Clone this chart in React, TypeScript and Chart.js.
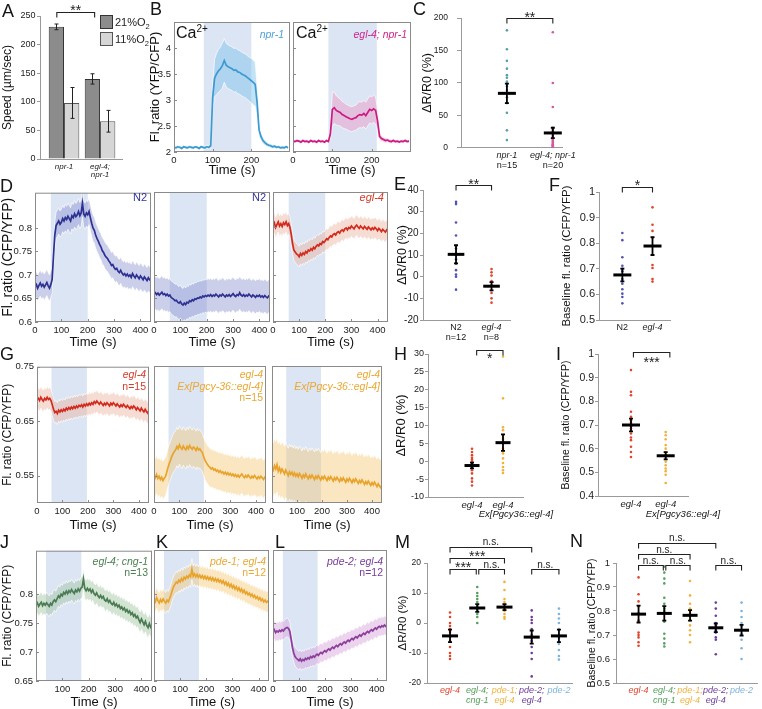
import React, { useEffect, useRef } from "react";
import { Chart, registerables } from "chart.js";

Chart.register(...registerables);

const FONT = "'Liberation Sans', Arial, Helvetica, sans-serif";
Chart.defaults.font.family = FONT;
Chart.defaults.color = "#222";

/* ======================= DATA ======================= */

// ---- Panel A ----
const A_GROUPS = [["npr-1"], ["egl-4;", "npr-1"]];
const A_SPEED_21 = [231, 140];
const A_SEM_21 = [5, 9];
const A_SPEED_11 = [98, 66];
const A_SEM_11 = [27, 19];
const A_Y_TICKS = [0, 50, 100, 150, 200, 250];
const A_BRACKETS = [{ from: 0.8, to: 1.85, y: 257, text: "**", dy: -6 }];

// ---- Panel B (time step 5 s) ----
const TIME_B = Array.from({ length: 60 }, (_, i) => i * 5);
const B_NPR1 = [
  2.09, 2.08, 2.1, 2.09, 2.07, 2.1, 2.09, 2.08, 2.1, 2.09,
  2.08, 2.1, 2.09, 2.07, 2.1, 2.09, 2.08, 2.1, 2.09, 2.12,
  3.05, 3.42, 3.5, 3.56, 3.6, 3.66, 3.76, 3.67, 3.64, 3.62,
  3.6, 3.57, 3.58, 3.54, 3.53, 3.5, 3.48, 3.46, 3.43, 3.4,
  3.37, 3.34, 3.3, 2.95, 2.42, 2.3, 2.22, 2.18, 2.15, 2.13,
  2.12, 2.1, 2.11, 2.09, 2.1, 2.08, 2.09, 2.08, 2.1, 2.08,
];
const B_NPR1_SEM = [
  0.03, 0.03, 0.03, 0.03, 0.03, 0.03, 0.03, 0.03, 0.03, 0.03,
  0.03, 0.03, 0.03, 0.03, 0.03, 0.03, 0.03, 0.03, 0.03, 0.05,
  0.25, 0.36, 0.4, 0.41, 0.42, 0.43, 0.42, 0.42, 0.42, 0.42,
  0.42, 0.42, 0.42, 0.42, 0.42, 0.42, 0.42, 0.42, 0.42, 0.42,
  0.43, 0.43, 0.42, 0.3, 0.12, 0.08, 0.06, 0.05, 0.04, 0.04,
  0.04, 0.035, 0.035, 0.03, 0.03, 0.03, 0.03, 0.03, 0.03, 0.03,
];
const B_EGL4_NPR1 = [
  2.21, 2.2, 2.22, 2.21, 2.19, 2.22, 2.2, 2.21, 2.19, 2.22,
  2.2, 2.21, 2.19, 2.22, 2.2, 2.21, 2.19, 2.22, 2.2, 2.35,
  2.82, 2.85, 2.8, 2.78, 2.76, 2.72, 2.7, 2.68, 2.66, 2.64,
  2.63, 2.65, 2.66, 2.7, 2.72, 2.71, 2.74, 2.7, 2.76, 2.82,
  2.8, 2.83, 2.8, 2.6, 2.3, 2.26, 2.24, 2.22, 2.23, 2.21,
  2.2, 2.22, 2.2, 2.21, 2.19, 2.21, 2.2, 2.22, 2.2, 2.21,
];
const B_EGL4_NPR1_SEM = [
  0.03, 0.03, 0.03, 0.03, 0.03, 0.03, 0.03, 0.03, 0.03, 0.03,
  0.03, 0.03, 0.03, 0.03, 0.03, 0.03, 0.03, 0.03, 0.03, 0.1,
  0.33, 0.3, 0.28, 0.27, 0.26, 0.25, 0.25, 0.24, 0.24, 0.24,
  0.24, 0.24, 0.24, 0.25, 0.25, 0.25, 0.25, 0.26, 0.26, 0.26,
  0.26, 0.26, 0.26, 0.2, 0.08, 0.06, 0.05, 0.05, 0.04, 0.04,
  0.04, 0.04, 0.035, 0.035, 0.03, 0.03, 0.03, 0.03, 0.03, 0.03,
];
const B_Y_TICKS = [2, 2.5, 3, 3.5, 4];
const B_X_TICKS = [0, 100, 200];
const B_STIM_1 = [77, 200];
const B_STIM_2 = [90, 213];

// ---- Panel C ----
const C_NPR1 = [181, 152, 134, 122, 112, 108, 102, 99, 95, 89, 78, 69, 54, 27, 12];
const C_EGL4_NPR1 = [178, 100, 63, 31, 28, 25, 22, 20, 17, 14, 12, 10, 8, 6, 5, 4, 3, 2, 1, 0];
const C_MEAN = [84, 23];
const C_SEM = [15, 8];
const C_Y_TICKS = [0, 50, 100, 150, 200];
const C_BRACKETS = [{ from: 1, to: 2, y: 200, text: "**", dy: -5 }];

// ---- Panels D, G, J, K, L (time step 5 s, 0-440 s) ----
const TIME_D = Array.from({ length: 89 }, (_, i) => i * 5);
const D_N2_1 = [
  0.677, 0.68, 0.672, 0.678, 0.683, 0.676, 0.68, 0.674, 0.679, 0.684,
  0.677, 0.672, 0.68, 0.69, 0.74, 0.785, 0.805, 0.81, 0.815, 0.808,
  0.812, 0.82, 0.815, 0.822, 0.818, 0.825, 0.82, 0.815, 0.826, 0.822,
  0.83, 0.824, 0.828, 0.835, 0.826, 0.832, 0.852, 0.83, 0.825, 0.832,
  0.828, 0.835, 0.822, 0.81, 0.8, 0.795, 0.785, 0.778, 0.772, 0.765,
  0.76, 0.752, 0.748, 0.742, 0.738, 0.735, 0.73, 0.726, 0.72, 0.722,
  0.716, 0.712, 0.714, 0.708, 0.705, 0.71, 0.704, 0.7, 0.703, 0.698,
  0.702, 0.697, 0.7, 0.695, 0.703, 0.698, 0.694, 0.7, 0.696, 0.692,
  0.698, 0.694, 0.69, 0.696, 0.692, 0.688, 0.694, 0.69, 0.687,
];
const D_N2_2 = [
  0.66, 0.662, 0.658, 0.661, 0.657, 0.66, 0.663, 0.658, 0.66, 0.656,
  0.659, 0.655, 0.657, 0.652, 0.65, 0.648, 0.645, 0.646, 0.642, 0.64,
  0.643, 0.638, 0.636, 0.64, 0.637, 0.642, 0.64, 0.645, 0.643, 0.647,
  0.645, 0.649, 0.648, 0.651, 0.65, 0.653, 0.651, 0.655, 0.653, 0.656,
  0.654, 0.657, 0.655, 0.658, 0.654, 0.657, 0.655, 0.659, 0.656, 0.653,
  0.657, 0.655, 0.659, 0.656, 0.653, 0.657, 0.655, 0.658, 0.654, 0.657,
  0.66, 0.656, 0.654, 0.658, 0.656, 0.662, 0.657, 0.655, 0.658, 0.654,
  0.657, 0.655, 0.659, 0.656, 0.653, 0.657, 0.655, 0.652, 0.656, 0.654,
  0.657, 0.653, 0.655, 0.652, 0.656, 0.653, 0.651, 0.655, 0.652,
];
const D_EGL4 = [
  0.805, 0.81, 0.8, 0.806, 0.812, 0.803, 0.808, 0.802, 0.81, 0.806,
  0.812, 0.804, 0.808, 0.8, 0.785, 0.765, 0.752, 0.748, 0.744, 0.742,
  0.738, 0.745, 0.741, 0.746, 0.743, 0.749, 0.746, 0.752, 0.75, 0.755,
  0.752, 0.758, 0.755, 0.76, 0.763, 0.761, 0.766, 0.764, 0.77, 0.768,
  0.772, 0.776, 0.774, 0.779, 0.782, 0.78, 0.785, 0.787, 0.784, 0.789,
  0.791, 0.788, 0.793, 0.795, 0.792, 0.797, 0.799, 0.795, 0.8, 0.798,
  0.803, 0.8, 0.797, 0.802, 0.805, 0.801, 0.798, 0.803, 0.8, 0.797,
  0.802, 0.799, 0.796, 0.801, 0.798, 0.795, 0.799, 0.796, 0.8, 0.797,
  0.793, 0.798, 0.795, 0.791, 0.796, 0.793, 0.79, 0.795, 0.792,
];
const D_SEM = [0.028, 0.035, 0.022];
const D_Y_TICKS = [0.6, 0.65, 0.7, 0.75, 0.8];
const D_X_TICKS = [0, 100, 200, 300, 400];
const D_STIM = [60, 200];

const G_EGL4 = [
  0.69, 0.692, 0.688, 0.694, 0.69, 0.687, 0.692, 0.689, 0.694, 0.69,
  0.692, 0.688, 0.68, 0.672, 0.666, 0.668, 0.664, 0.67, 0.667, 0.671,
  0.668, 0.672, 0.669, 0.674, 0.671, 0.675, 0.672, 0.676, 0.673, 0.677,
  0.674, 0.678, 0.675, 0.679, 0.677, 0.68, 0.676, 0.681, 0.678, 0.682,
  0.679, 0.683, 0.68, 0.684, 0.681, 0.686, 0.683, 0.687, 0.684, 0.681,
  0.685, 0.682, 0.679, 0.683, 0.68, 0.684, 0.681, 0.678, 0.683, 0.68,
  0.684, 0.681, 0.678, 0.682, 0.679, 0.676, 0.68, 0.677, 0.681, 0.678,
  0.675, 0.679, 0.676, 0.673, 0.677, 0.674, 0.678, 0.675, 0.671, 0.675,
  0.672, 0.669, 0.674, 0.67, 0.667, 0.672, 0.668, 0.665, 0.67,
];
const G_RESCUE_1 = [
  0.55, 0.546, 0.552, 0.545, 0.549, 0.543, 0.547, 0.541, 0.545, 0.548,
  0.556, 0.565, 0.572, 0.578, 0.585, 0.59, 0.594, 0.597, 0.603, 0.599,
  0.606, 0.601, 0.598, 0.604, 0.6, 0.597, 0.603, 0.599, 0.605, 0.601,
  0.598, 0.602, 0.6, 0.596, 0.601, 0.597, 0.599, 0.595, 0.592, 0.585,
  0.578, 0.574, 0.57, 0.567, 0.565, 0.562, 0.564, 0.56, 0.562, 0.558,
  0.56, 0.556, 0.559, 0.555, 0.557, 0.553, 0.556, 0.552, 0.555, 0.551,
  0.554, 0.55, 0.553, 0.549, 0.552, 0.548, 0.551, 0.547, 0.55, 0.553,
  0.549, 0.546, 0.55, 0.547, 0.551, 0.548, 0.545, 0.549, 0.546, 0.55,
  0.547, 0.544, 0.548, 0.545, 0.549, 0.546, 0.543, 0.547, 0.545,
];
const G_RESCUE_2 = [
  0.565, 0.56, 0.568, 0.562, 0.57, 0.558, 0.564, 0.556, 0.562, 0.558,
  0.553, 0.56, 0.555, 0.55, 0.557, 0.552, 0.556, 0.55, 0.555, 0.549,
  0.553, 0.548, 0.554, 0.55, 0.545, 0.551, 0.547, 0.553, 0.548, 0.544,
  0.55, 0.546, 0.551, 0.547, 0.543, 0.549, 0.545, 0.55, 0.546, 0.542,
  0.548, 0.544, 0.549, 0.545, 0.541, 0.547, 0.543, 0.548, 0.544, 0.54,
  0.546, 0.542, 0.547, 0.543, 0.539, 0.545, 0.541, 0.546, 0.542, 0.538,
  0.544, 0.54, 0.545, 0.541, 0.537, 0.543, 0.539, 0.544, 0.54, 0.536,
  0.541, 0.537, 0.542, 0.538, 0.534, 0.539, 0.535, 0.54, 0.536, 0.532,
  0.537, 0.533, 0.538, 0.534, 0.53, 0.535, 0.531, 0.528, 0.533,
];
const G_SEM = [0.02, 0.035, 0.05];
const G_Y_TICKS = [0.55, 0.65, 0.75];
const G_STIM = [57, 196];

const J_CNG1 = [
  0.782, 0.785, 0.779, 0.783, 0.786, 0.78, 0.784, 0.781, 0.785, 0.782,
  0.779, 0.784, 0.781, 0.787, 0.79, 0.787, 0.792, 0.797, 0.794, 0.8,
  0.797, 0.803, 0.8, 0.805, 0.801, 0.806, 0.803, 0.808, 0.804, 0.801,
  0.807, 0.804, 0.809, 0.805, 0.81, 0.812, 0.826, 0.81, 0.806, 0.81,
  0.806, 0.809, 0.803, 0.807, 0.801, 0.798, 0.802, 0.797, 0.794, 0.798,
  0.793, 0.796, 0.79, 0.788, 0.792, 0.786, 0.789, 0.784, 0.782, 0.786,
  0.78, 0.783, 0.778, 0.781, 0.775, 0.778, 0.773, 0.776, 0.77, 0.773,
  0.768, 0.771, 0.765, 0.768, 0.762, 0.765, 0.759, 0.762, 0.756, 0.751,
  0.757, 0.752, 0.747, 0.753, 0.746, 0.742, 0.749, 0.743, 0.739,
];
const K_PDE1 = [
  0.79, 0.786, 0.793, 0.788, 0.784, 0.79, 0.786, 0.791, 0.787, 0.784,
  0.789, 0.786, 0.792, 0.798, 0.806, 0.812, 0.816, 0.82, 0.818, 0.823,
  0.82, 0.826, 0.822, 0.828, 0.825, 0.83, 0.827, 0.832, 0.829, 0.842,
  0.83, 0.834, 0.829, 0.833, 0.828, 0.832, 0.827, 0.831, 0.826, 0.83,
  0.825, 0.829, 0.824, 0.828, 0.823, 0.827, 0.822, 0.826, 0.821, 0.825,
  0.82, 0.823, 0.818, 0.822, 0.816, 0.82, 0.814, 0.818, 0.812, 0.816,
  0.81, 0.814, 0.808, 0.812, 0.806, 0.81, 0.804, 0.808, 0.802, 0.806,
  0.8, 0.803, 0.798, 0.801, 0.796, 0.799, 0.794, 0.797, 0.792, 0.795,
  0.79, 0.793, 0.788, 0.791, 0.786, 0.789, 0.785, 0.787, 0.784,
];
const L_PDE2 = [
  0.735, 0.738, 0.733, 0.736, 0.734, 0.737, 0.735, 0.738, 0.736, 0.739,
  0.741, 0.742, 0.74, 0.735, 0.722, 0.708, 0.698, 0.692, 0.689, 0.687,
  0.685, 0.688, 0.684, 0.687, 0.685, 0.689, 0.687, 0.69, 0.688, 0.692,
  0.69, 0.693, 0.691, 0.694, 0.696, 0.694, 0.697, 0.699, 0.697, 0.7,
  0.702, 0.7, 0.703, 0.705, 0.703, 0.706, 0.708, 0.706, 0.709, 0.711,
  0.709, 0.712, 0.714, 0.712, 0.715, 0.717, 0.715, 0.718, 0.72, 0.718,
  0.721, 0.723, 0.721, 0.724, 0.726, 0.724, 0.727, 0.729, 0.727, 0.73,
  0.732, 0.73, 0.733, 0.735, 0.733, 0.736, 0.738, 0.736, 0.739, 0.741,
  0.739, 0.742, 0.744, 0.742, 0.745, 0.743, 0.746, 0.744, 0.747,
];
const JKL_SEM = [0.018, 0.018, 0.016];
const J_Y_TICKS = [0.65, 0.7, 0.75, 0.8];
const J_X_TICKS = [100, 200, 300, 400];
const JKL_STIM = [38, 172];

// ---- Panel E ----
const E_N2 = [34.5, 33.5, 25, 19, 13, 10, 8, 6, 3, 1, 0, -6];
const E_EGL4 = [3.5, 2, 0.5, -2, -4, -7.5, -10, -12];
const E_MEAN = [10.3, -4.4];
const E_SEM = [4.2, 1.9];
const E_Y_TICKS = [-20, -10, 0, 10, 20, 30, 40];
const E_BRACKETS = [{ from: 1, to: 2, y: 42.3, text: "**", dy: -4.5 }];

// ---- Panel F ----
const F_N2 = [0.84, 0.812, 0.745, 0.712, 0.7, 0.69, 0.66, 0.642, 0.62, 0.603, 0.59, 0.565];
const F_EGL4 = [0.94, 0.872, 0.848, 0.82, 0.715, 0.703, 0.66, 0.65];
const F_MEAN = [0.676, 0.789];
const F_SEM = [0.025, 0.035];
const FRAC_TICKS_5 = [0.5, 0.6, 0.7, 0.8, 0.9, 1];
const F_BRACKETS = [{ from: 1, to: 2, y: 1.021, text: "*", dy: -6 }];

// ---- Panel H ----
const H_EGL4 = [3.5, 2.6, 1.7, 1, 0.5, 0, -0.3, -0.8, -1.2, -1.6, -2.5, -3.4, -4.8, -5.7, -6.8];
const H_RESCUE = [29.3, 17.6, 9.5, 8.7, 7.3, 6.5, 6.1, 3.6, 3, 2.2, 0.8, -0.5, -1.6, -2.5, -3.3];
const H_MEAN = [-1.2, 5.2];
const H_SEM = [0.8, 2.3];
const H_Y_TICKS = [-10, -5, 0, 5, 10, 15, 20, 25, 30];
const H_BRACKETS = [{ from: 1.15, to: 2, y: 31.2, text: "*", dy: 4 }];

// ---- Panel I ----
const I_EGL4 = [0.932, 0.84, 0.826, 0.756, 0.735, 0.72, 0.71, 0.695, 0.685, 0.664, 0.647, 0.636, 0.608, 0.586, 0.565];
const I_RESCUE = [0.67, 0.657, 0.64, 0.615, 0.6, 0.585, 0.575, 0.565, 0.555, 0.545, 0.53, 0.516, 0.505, 0.49, 0.455];
const I_MEAN = [0.7, 0.57];
const I_SEM = [0.027, 0.015];
const I_Y_TICKS = [0.4, 0.5, 0.6, 0.7, 0.8, 0.9, 1];
const I_BRACKETS = [{ from: 1.07, to: 2.12, y: 1.01, text: "***", dy: 6.5 }];

// ---- Panels M / N ----
const MN_LABELS = ["egl-4", ["egl-4;", "cng-1"], ["pde-1;", "egl-4"], ["pde-2;", "egl-4"], "pde-2"];
const M_EGL4 = [3.5, 2, 0, -1, -2, -3, -4.5, -6, -8, -10, -11, -12];
const M_CNG1 = [12, 10, 9, 8, 7, 6, 5.5, 5, 4.5, 4, 3, 2, 0];
const M_PDE1 = [13.7, 11, 8, 7, 6, 5.5, 5, 4.5, 4, 3, 2, 1.4];
const M_PDE2_EGL4 = [4.2, 2, 1, 0, -2, -4, -5, -6, -8, -10, -12, -17.8];
const M_PDE2 = [4.8, 3, 1.5, 0, -2, -4, -5, -7, -9, -11, -12.2];
const M_MEAN = [-4.3, 5, 5.3, -4.7, -4.3];
const M_SEM = [2.1, 1.3, 1.0, 2.2, 2.1];
const M_Y_TICKS = [-20, -10, 0, 10, 20];
const M_BRACKETS = [
  { from: 1, to: 4, y: 25.3, text: "n.s.", dy: -5 },
  { from: 1, to: 3, y: 21.8, text: "***", dy: -5.5 },
  { from: 1, to: 2, y: 18.1, text: "***", dy: -5.5, in2: 1 },
  { from: 2, to: 3, y: 18.1, text: "n.s.", dy: -4, in1: 1.5 },
  { from: 4, to: 5, y: 18.1, text: "n.s.", dy: -4 },
];
const N_EGL4 = [0.94, 0.87, 0.84, 0.82, 0.79, 0.76, 0.71, 0.7, 0.69, 0.67, 0.655];
const N_CNG1 = [0.985, 0.96, 0.935, 0.915, 0.855, 0.83, 0.81, 0.8, 0.755, 0.705, 0.685, 0.665, 0.652];
const N_PDE1 = [0.925, 0.865, 0.83, 0.81, 0.8, 0.79, 0.78, 0.76, 0.74, 0.72, 0.7, 0.67];
const N_PDE2_EGL4 = [0.835, 0.81, 0.78, 0.75, 0.74, 0.73, 0.72, 0.71, 0.69, 0.68, 0.62];
const N_PDE2 = [0.835, 0.8, 0.775, 0.75, 0.735, 0.72, 0.705, 0.68, 0.645, 0.6];
const N_MEAN = [0.787, 0.79, 0.782, 0.73, 0.72];
const N_SEM = [0.035, 0.03, 0.022, 0.018, 0.022];
const N_BRACKETS = [
  { from: 1, to: 4, y: 1.082, text: "n.s.", dy: -5 },
  { from: 1, to: 3, y: 1.036, text: "n.s.", dy: -4 },
  { from: 1, to: 2, y: 0.99, text: "n.s.", dy: -4, in2: 1 },
  { from: 2, to: 3, y: 0.99, text: "n.s.", dy: -4, in1: 1.5 },
  { from: 4, to: 5, y: 0.99, text: "n.s.", dy: -4 },
];

/* ======================= STYLE ======================= */
const STIM_COLOR = "#dce5f4";
const BOX_COLOR = "#8a8a8a";
const AXIS_COLOR = "#9a9a9a";
const COL = {
  b1: "#3d9ad1", b1Band: "rgba(120,190,235,0.45)",
  b2: "#cc1a80", b2Band: "rgba(235,140,190,0.42)",
  navy: "#2e3192", navyBand: "rgba(130,140,205,0.42)",
  red: "#d42a1e", redBand: "rgba(232,175,150,0.42)",
  orange: "#e9a32b", orangeBand: "rgba(242,198,110,0.42)",
  green: "#4b7b53", greenBand: "rgba(150,190,150,0.42)",
  purple: "#8b3f9a", purpleBand: "rgba(212,160,218,0.45)",
  dotTeal: "#56a0ab", dotPink: "#d35aa0", dotN2: "#5252b0",
  dotRed: "#e0452e", dotOrange: "#f0b23c", dotGreen: "#55a05c",
  dotPurple: "#6e3c9a", dotBlue: "#7db4dc",
};
const MN_COLORS = [COL.dotRed, COL.dotGreen, COL.dotOrange, COL.dotPurple, COL.dotBlue];

/* ======================= PLUGINS ======================= */
function stimPlugin(range: number[]) {
  return {
    id: "stim",
    beforeDatasetsDraw(chart: any) {
      const { ctx, chartArea: a, scales } = chart;
      const x = scales.x;
      const x1 = Math.max(a.left, x.getPixelForValue(range[0]));
      const x2 = Math.min(a.right, x.getPixelForValue(range[1]));
      ctx.save();
      ctx.fillStyle = STIM_COLOR;
      ctx.fillRect(x1, a.top, x2 - x1, a.bottom - a.top);
      ctx.restore();
    },
  };
}
function boxPlugin() {
  return {
    id: "box",
    afterDatasetsDraw(chart: any) {
      const { ctx, chartArea: a, scales } = chart;
      const { x, y } = scales;
      ctx.save();
      ctx.strokeStyle = BOX_COLOR;
      ctx.lineWidth = 1;
      ctx.strokeRect(a.left + 0.5, a.top + 0.5, a.right - a.left - 1, a.bottom - a.top - 1);
      ctx.beginPath();
      for (const t of x.ticks) {
        const px = Math.round(x.getPixelForValue(t.value)) + 0.5;
        ctx.moveTo(px, a.bottom);
        ctx.lineTo(px, a.bottom - 3);
      }
      for (const t of y.ticks) {
        const py = Math.round(y.getPixelForValue(t.value)) + 0.5;
        ctx.moveTo(a.left, py);
        ctx.lineTo(a.left + 3, py);
      }
      ctx.stroke();
      ctx.restore();
    },
  };
}
type Bracket = { from: number; to: number; y: number; text: string; dy?: number; in1?: number; in2?: number };
function bracketPlugin(items: Bracket[]) {
  return {
    id: "brackets",
    afterDraw(chart: any) {
      const { ctx, scales } = chart;
      const { x, y } = scales;
      ctx.save();
      ctx.strokeStyle = "#222";
      ctx.fillStyle = "#222";
      ctx.lineWidth = 1.1;
      ctx.textAlign = "center";
      ctx.textBaseline = "alphabetic";
      for (const b of items) {
        const x1 = x.getPixelForValue(b.from) + (b.in1 || 0);
        const x2 = x.getPixelForValue(b.to) - (b.in2 || 0);
        const py = Math.round(y.getPixelForValue(b.y)) + 0.5;
        ctx.beginPath();
        ctx.moveTo(x1, py + 5);
        ctx.lineTo(x1, py);
        ctx.lineTo(x2, py);
        ctx.lineTo(x2, py + 5);
        ctx.stroke();
        const star = b.text.indexOf("*") >= 0;
        const fs = star ? 14 : 10;
        ctx.font = `${fs}px ${FONT}`;
        const yc = py + (b.dy === undefined ? -5.5 : b.dy);
        ctx.fillText(b.text, (x1 + x2) / 2, yc + (star ? 0.58 : 0.26) * fs);
      }
      ctx.restore();
    },
  };
}
function crossPlugin(means: number[], sems: number[], half: number) {
  return {
    id: "cross",
    afterDatasetsDraw(chart: any) {
      const { ctx, scales } = chart;
      const { x, y } = scales;
      ctx.save();
      ctx.strokeStyle = "#000";
      means.forEach((m, i) => {
        const cx = x.getPixelForValue(i + 1);
        const my = y.getPixelForValue(m);
        const lo = y.getPixelForValue(m - sems[i]);
        const hi = y.getPixelForValue(m + sems[i]);
        ctx.lineWidth = 1.8;
        ctx.beginPath();
        ctx.moveTo(cx, lo);
        ctx.lineTo(cx, hi);
        ctx.moveTo(cx - 2, lo);
        ctx.lineTo(cx + 2, lo);
        ctx.moveTo(cx - 2, hi);
        ctx.lineTo(cx + 2, hi);
        ctx.stroke();
        ctx.lineWidth = 3;
        ctx.beginPath();
        ctx.moveTo(cx - half, my);
        ctx.lineTo(cx + half, my);
        ctx.stroke();
      });
      ctx.restore();
    },
  };
}
function errorBarPlugin(values: number[][], errs: number[][]) {
  return {
    id: "errbars",
    afterDatasetsDraw(chart: any) {
      const { ctx, scales } = chart;
      const y = scales.y;
      ctx.save();
      ctx.strokeStyle = "#222";
      ctx.lineWidth = 1;
      values.forEach((vals, d) => {
        const meta = chart.getDatasetMeta(d);
        meta.data.forEach((bar: any, i: number) => {
          const cx = Math.round(bar.x) + 0.5;
          const top = y.getPixelForValue(vals[i] + errs[d][i]);
          const bot = y.getPixelForValue(vals[i] - errs[d][i]);
          ctx.beginPath();
          ctx.moveTo(cx, top);
          ctx.lineTo(cx, bot);
          ctx.moveTo(cx - 2, top);
          ctx.lineTo(cx + 2, top);
          ctx.moveTo(cx - 2, bot);
          ctx.lineTo(cx + 2, bot);
          ctx.stroke();
        });
      });
      ctx.restore();
    },
  };
}

/* ======================= CONFIG BUILDERS ======================= */
type Pad = { l: number; t: number; r: number; b: number };
type Area = { L: number; T: number; R: number; B: number };

function base(pad: Pad) {
  return {
    responsive: true,
    maintainAspectRatio: false,
    animation: false,
    events: [],
    layout: { padding: { left: 0, top: pad.t, right: pad.r, bottom: 0 } },
    plugins: { legend: { display: false }, tooltip: { enabled: false }, title: { display: false } },
  };
}

type TimeSpec = {
  time: number[]; mean: number[]; sem: number | number[]; color: string; band: string;
  xMax: number; yMin: number; yMax: number; yTicks: number[]; xTicks: number[];
  showY: boolean; yTitle?: string; yTitleSize?: number; stim: number[]; pad: Pad;
};
function timeConfig(s: TimeSpec) {
  const semAt = (i: number) => (typeof s.sem === "number" ? s.sem : s.sem[i]);
  const pts = (f: (v: number, i: number) => number) => s.mean.map((v, i) => ({ x: s.time[i], y: f(v, i) }));
  const edge = "rgba(255,255,255,0.85)";
  return {
    type: "line",
    data: {
      datasets: [
        { data: pts((v) => v), borderColor: s.color, borderWidth: 1.7, pointRadius: 0, fill: false, clip: 0 },
        { data: pts((v, i) => v + semAt(i)), borderColor: edge, borderWidth: 0.8, pointRadius: 0, fill: false, clip: 0 },
        { data: pts((v, i) => v - semAt(i)), borderColor: edge, borderWidth: 0.8, pointRadius: 0, fill: "-1", backgroundColor: s.band, clip: 0 },
      ],
    },
    options: {
      ...base(s.pad),
      scales: {
        x: {
          type: "linear", min: 0, max: s.xMax,
          afterBuildTicks: (sc: any) => { sc.ticks = s.xTicks.map((v) => ({ value: v })); },
          afterFit: (sc: any) => { sc.height = s.pad.b; },
          ticks: { callback: (v: any) => String(v), font: { size: 9.5 }, color: "#222", padding: 3, maxRotation: 0, autoSkip: false },
          grid: { display: false, drawTicks: false },
          border: { display: false },
          title: { display: true, text: "Time (s)", font: { size: 13 }, color: "#111", padding: 0 },
        },
        y: {
          type: "linear", min: s.yMin, max: s.yMax,
          afterBuildTicks: (sc: any) => { sc.ticks = s.yTicks.map((v) => ({ value: v })); },
          afterFit: (sc: any) => { sc.width = s.pad.l; },
          ticks: { display: s.showY, callback: (v: any) => String(v), font: { size: 9.5 }, color: "#222", padding: 3, autoSkip: false },
          grid: { display: false, drawTicks: false },
          border: { display: false },
          title: { display: !!s.yTitle, text: s.yTitle || "", font: { size: s.yTitleSize || 13 }, color: "#111", padding: 0 },
        },
      },
    },
    plugins: [stimPlugin(s.stim), boxPlugin()],
  };
}

type ScatterSpec = {
  groups: number[][]; colors: string[]; means: number[]; sems: number[]; half: number;
  labels: any[]; labelColors: string[]; labelItalic: boolean[]; labelSize: number;
  xMin: number; xMax: number; yMin: number; yMax: number; yTicks: number[]; tickSize: number;
  yTitle: string; yTitleSize: number; tickLen: number; tickPad: number; brackets: Bracket[]; pad: Pad;
};
function yAxisExcel(s: { yMin: number; yMax: number; yTicks: number[]; tickSize: number; tickLen: number; tickPad: number; yTitle: string; yTitleSize: number; pad: Pad }) {
  return {
    type: "linear", min: s.yMin, max: s.yMax,
    afterBuildTicks: (sc: any) => { sc.ticks = s.yTicks.map((v) => ({ value: v })); },
    afterFit: (sc: any) => { sc.width = s.pad.l; },
    ticks: { callback: (v: any) => String(v), font: { size: s.tickSize }, color: "#222", padding: s.tickPad, autoSkip: false },
    grid: { display: true, drawOnChartArea: false, drawTicks: true, tickLength: s.tickLen, color: AXIS_COLOR, lineWidth: 1 },
    border: { display: true, color: AXIS_COLOR, width: 1 },
    title: { display: true, text: s.yTitle, font: { size: s.yTitleSize }, color: "#111", padding: 0 },
  };
}
function xAxisCats(labels: any[], colors: string[], italic: boolean[], size: number, min: number, max: number, pad: Pad) {
  return {
    type: "linear", min, max, offset: false,
    afterBuildTicks: (sc: any) => { sc.ticks = labels.map((_: any, i: number) => ({ value: i + 1 })); },
    afterFit: (sc: any) => { sc.height = pad.b; },
    ticks: {
      callback: (_v: any, i: number) => labels[i],
      autoSkip: false, maxRotation: 0, minRotation: 0, padding: 3,
      color: (c: any) => colors[c.index] || "#222",
      font: (c: any) => ({ size, style: italic[c.index] ? "italic" : "normal", lineHeight: 1.1 }),
    },
    grid: { display: false, drawTicks: false },
    border: { display: true, color: AXIS_COLOR, width: 1 },
  };
}
function scatterConfig(s: ScatterSpec) {
  return {
    type: "scatter",
    data: {
      datasets: s.groups.map((g, gi) => ({
        data: g.map((v) => ({ x: gi + 1, y: v })),
        pointRadius: 1.3, pointBackgroundColor: s.colors[gi], pointBorderWidth: 0, borderWidth: 0,
      })),
    },
    options: {
      ...base(s.pad),
      scales: {
        x: xAxisCats(s.labels, s.labelColors, s.labelItalic, s.labelSize, s.xMin, s.xMax, s.pad),
        y: yAxisExcel(s),
      },
    },
    plugins: [crossPlugin(s.means, s.sems, s.half), bracketPlugin(s.brackets)],
  };
}

function barConfig(pad: Pad) {
  return {
    type: "bar",
    data: {
      datasets: [
        { data: A_SPEED_21.map((y, i) => ({ x: i + 1, y })), backgroundColor: "#8c8c8c", borderColor: "#333", borderWidth: 1 },
        { data: A_SPEED_11.map((y, i) => ({ x: i + 1, y })), backgroundColor: "#d6d6d6", borderColor: "#555", borderWidth: 1 },
      ],
    },
    options: {
      ...base(pad),
      datasets: { bar: { categoryPercentage: 0.85, barPercentage: 1 } },
      scales: {
        x: xAxisCats(A_GROUPS, ["#222", "#222"], [true, true], 8, 0.333, 2.61, pad),
        y: yAxisExcel({ yMin: 0, yMax: 250, yTicks: A_Y_TICKS, tickSize: 9, tickLen: 3, tickPad: 1.5, yTitle: "Speed (µm/sec)", yTitleSize: 12, pad }),
      },
    },
    plugins: [errorBarPlugin([A_SPEED_21, A_SPEED_11], [A_SEM_21, A_SEM_11]), bracketPlugin(A_BRACKETS)],
  };
}

/* ======================= LAYOUT ======================= */
type ChartDef = { area: Area; pad: Pad; make: (pad: Pad) => any };

const two = [true, true];
const DARK2 = ["#222", "#222"];

const CHARTS: ChartDef[] = [
  { area: { L: 40, T: 16, R: 122, B: 159 }, pad: { l: 40, t: 16, r: 6, b: 24 }, make: (p) => barConfig(p) },
  // B
  {
    area: { L: 174, T: 22, R: 290, B: 152 }, pad: { l: 26, t: 12, r: 4, b: 26 },
    make: (p) => timeConfig({ time: TIME_B, mean: B_NPR1, sem: B_NPR1_SEM, color: COL.b1, band: COL.b1Band, xMax: 300, yMin: 2, yMax: 4.5, yTicks: B_Y_TICKS, xTicks: B_X_TICKS, showY: true, yTitle: "Fl. ratio (YFP/CFP)", yTitleSize: 13, stim: B_STIM_1, pad: p }),
  },
  {
    area: { L: 293, T: 22, R: 411, B: 152 }, pad: { l: 10, t: 12, r: 4, b: 26 },
    make: (p) => timeConfig({ time: TIME_B, mean: B_EGL4_NPR1, sem: B_EGL4_NPR1_SEM, color: COL.b2, band: COL.b2Band, xMax: 300, yMin: 2, yMax: 4.5, yTicks: B_Y_TICKS, xTicks: B_X_TICKS, showY: false, stim: B_STIM_2, pad: p }),
  },
  // C
  {
    area: { L: 461, T: 18, R: 562, B: 148 }, pad: { l: 41, t: 18, r: 30, b: 14 },
    make: (p) => scatterConfig({ groups: [C_NPR1, C_EGL4_NPR1], colors: [COL.dotTeal, COL.dotPink], means: C_MEAN, sems: C_SEM, half: 9, labels: ["npr-1", "egl-4; npr-1"], labelColors: DARK2, labelItalic: two, labelSize: 9, xMin: 0, xMax: 2.2, yMin: 0, yMax: 200, yTicks: C_Y_TICKS, tickSize: 8.5, yTitle: "ΔR/R0 (%)", yTitleSize: 12.5, tickLen: 4, tickPad: 9, brackets: C_BRACKETS, pad: p }),
  },
  // D
  {
    area: { L: 35, T: 192, R: 151, B: 322 }, pad: { l: 35, t: 8, r: 4, b: 28 },
    make: (p) => timeConfig({ time: TIME_D, mean: D_N2_1, sem: D_SEM[0], color: COL.navy, band: COL.navyBand, xMax: 440, yMin: 0.6, yMax: 0.875, yTicks: D_Y_TICKS, xTicks: D_X_TICKS, showY: true, yTitle: "Fl. ratio (CFP/YFP)", yTitleSize: 14, stim: D_STIM, pad: p }),
  },
  {
    area: { L: 154, T: 192, R: 270, B: 322 }, pad: { l: 10, t: 8, r: 4, b: 28 },
    make: (p) => timeConfig({ time: TIME_D, mean: D_N2_2, sem: D_SEM[1], color: COL.navy, band: COL.navyBand, xMax: 440, yMin: 0.6, yMax: 0.875, yTicks: D_Y_TICKS, xTicks: D_X_TICKS, showY: false, stim: D_STIM, pad: p }),
  },
  {
    area: { L: 273, T: 192, R: 388, B: 322 }, pad: { l: 10, t: 8, r: 4, b: 28 },
    make: (p) => timeConfig({ time: TIME_D, mean: D_EGL4, sem: D_SEM[2], color: COL.red, band: COL.redBand, xMax: 440, yMin: 0.6, yMax: 0.875, yTicks: D_Y_TICKS, xTicks: D_X_TICKS, showY: false, stim: D_STIM, pad: p }),
  },
  // E
  {
    area: { L: 423, T: 190, R: 510, B: 320 }, pad: { l: 28, t: 16, r: 12, b: 14 },
    make: (p) => scatterConfig({ groups: [E_N2, E_EGL4], colors: [COL.dotN2, COL.dotRed], means: E_MEAN, sems: E_SEM, half: 8.3, labels: ["N2", "egl-4"], labelColors: DARK2, labelItalic: [false, true], labelSize: 9, xMin: 0.07, xMax: 2.52, yMin: -20, yMax: 40, yTicks: E_Y_TICKS, tickSize: 10, yTitle: "ΔR/R0 (%)", yTitleSize: 12.5, tickLen: 3, tickPad: 1.5, brackets: E_BRACKETS, pad: p }),
  },
  // F
  {
    area: { L: 599, T: 192, R: 670, B: 320 }, pad: { l: 39, t: 16, r: 12, b: 14 },
    make: (p) => scatterConfig({ groups: [F_N2, F_EGL4], colors: [COL.dotN2, COL.dotRed], means: F_MEAN, sems: F_SEM, half: 9, labels: ["N2", "egl-4"], labelColors: DARK2, labelItalic: [false, true], labelSize: 9, xMin: 0.226, xMax: 2.58, yMin: 0.5, yMax: 1, yTicks: FRAC_TICKS_5, tickSize: 11, yTitle: "Baseline fl. ratio (CFP/YFP)", yTitleSize: 11.5, tickLen: 3, tickPad: 1, brackets: F_BRACKETS, pad: p }),
  },
  // G
  {
    area: { L: 37, T: 366, R: 149, B: 503 }, pad: { l: 37, t: 8, r: 4, b: 30 },
    make: (p) => timeConfig({ time: TIME_D, mean: G_EGL4, sem: G_SEM[0], color: COL.red, band: COL.redBand, xMax: 440, yMin: 0.5, yMax: 0.75, yTicks: G_Y_TICKS, xTicks: D_X_TICKS, showY: true, yTitle: "Fl. ratio (CFP/YFP)", yTitleSize: 12, stim: G_STIM, pad: p }),
  },
  {
    area: { L: 154, T: 366, R: 266, B: 503 }, pad: { l: 10, t: 8, r: 4, b: 30 },
    make: (p) => timeConfig({ time: TIME_D, mean: G_RESCUE_1, sem: G_SEM[1], color: COL.orange, band: COL.orangeBand, xMax: 440, yMin: 0.5, yMax: 0.75, yTicks: G_Y_TICKS, xTicks: D_X_TICKS, showY: false, stim: G_STIM, pad: p }),
  },
  {
    area: { L: 272, T: 366, R: 382, B: 503 }, pad: { l: 10, t: 8, r: 4, b: 30 },
    make: (p) => timeConfig({ time: TIME_D, mean: G_RESCUE_2, sem: G_SEM[2], color: COL.orange, band: COL.orangeBand, xMax: 440, yMin: 0.5, yMax: 0.75, yTicks: G_Y_TICKS, xTicks: D_X_TICKS, showY: false, stim: G_STIM, pad: p }),
  },
  // H
  {
    area: { L: 428, T: 354, R: 523, B: 497 }, pad: { l: 34, t: 8, r: 12, b: 14 },
    make: (p) => scatterConfig({ groups: [H_EGL4, H_RESCUE], colors: [COL.dotRed, COL.dotOrange], means: H_MEAN, sems: H_SEM, half: 7.5, labels: ["egl-4", "egl-4"], labelColors: DARK2, labelItalic: two, labelSize: 9.5, xMin: -0.42, xMax: 2.645, yMin: -10, yMax: 30, yTicks: H_Y_TICKS, tickSize: 9, yTitle: "ΔR/R0 (%)", yTitleSize: 13, tickLen: 3, tickPad: 1, brackets: H_BRACKETS, pad: p }),
  },
  // I
  {
    area: { L: 598, T: 354, R: 688, B: 496 }, pad: { l: 38, t: 8, r: 12, b: 14 },
    make: (p) => scatterConfig({ groups: [I_EGL4, I_RESCUE], colors: [COL.dotRed, COL.dotOrange], means: I_MEAN, sems: I_SEM, half: 9, labels: ["egl-4", "egl-4"], labelColors: DARK2, labelItalic: two, labelSize: 9.5, xMin: 0.049, xMax: 2.643, yMin: 0.4, yMax: 1, yTicks: I_Y_TICKS, tickSize: 10.5, yTitle: "Baseline fl. ratio (CFP/YFP)", yTitleSize: 10.5, tickLen: 3, tickPad: 1, brackets: I_BRACKETS, pad: p }),
  },
  // J K L
  {
    area: { L: 36, T: 550, R: 152, B: 681 }, pad: { l: 36, t: 8, r: 4, b: 29 },
    make: (p) => timeConfig({ time: TIME_D, mean: J_CNG1, sem: JKL_SEM[0], color: COL.green, band: COL.greenBand, xMax: 440, yMin: 0.65, yMax: 0.875, yTicks: J_Y_TICKS, xTicks: J_X_TICKS, showY: true, yTitle: "Fl. ratio (CFP/YFP)", yTitleSize: 12, stim: JKL_STIM, pad: p }),
  },
  {
    area: { L: 154, T: 550, R: 269, B: 681 }, pad: { l: 10, t: 8, r: 4, b: 29 },
    make: (p) => timeConfig({ time: TIME_D, mean: K_PDE1, sem: JKL_SEM[1], color: COL.orange, band: COL.orangeBand, xMax: 440, yMin: 0.65, yMax: 0.875, yTicks: J_Y_TICKS, xTicks: D_X_TICKS, showY: false, stim: JKL_STIM, pad: p }),
  },
  {
    area: { L: 273, T: 550, R: 387, B: 681 }, pad: { l: 10, t: 8, r: 4, b: 29 },
    make: (p) => timeConfig({ time: TIME_D, mean: L_PDE2, sem: JKL_SEM[2], color: COL.purple, band: COL.purpleBand, xMax: 440, yMin: 0.65, yMax: 0.875, yTicks: J_Y_TICKS, xTicks: D_X_TICKS, showY: false, stim: JKL_STIM, pad: p }),
  },
  // M
  {
    area: { L: 427, T: 563, R: 572, B: 683 }, pad: { l: 31, t: 30, r: 10, b: 24 },
    make: (p) => scatterConfig({ groups: [M_EGL4, M_CNG1, M_PDE1, M_PDE2_EGL4, M_PDE2], colors: MN_COLORS, means: M_MEAN, sems: M_SEM, half: 8, labels: MN_LABELS, labelColors: MN_COLORS, labelItalic: [true, true, true, true, true], labelSize: 9, xMin: 0.154, xMax: 5.48, yMin: -20, yMax: 20, yTicks: M_Y_TICKS, tickSize: 8.5, yTitle: "ΔR/R0 (%)", yTitleSize: 11.5, tickLen: 3, tickPad: 3, brackets: M_BRACKETS, pad: p }),
  },
  // N
  {
    area: { L: 616, T: 563, R: 757, B: 683 }, pad: { l: 30, t: 30, r: 4, b: 24 },
    make: (p) => scatterConfig({ groups: [N_EGL4, N_CNG1, N_PDE1, N_PDE2_EGL4, N_PDE2], colors: MN_COLORS, means: N_MEAN, sems: N_SEM, half: 7.5, labels: MN_LABELS, labelColors: MN_COLORS, labelItalic: [true, true, true, true, true], labelSize: 9, xMin: 0.124, xMax: 5.6, yMin: 0.5, yMax: 1, yTicks: FRAC_TICKS_5, tickSize: 9.5, yTitle: "Baseline fl. ratio (CFP/YFP)", yTitleSize: 10.5, tickLen: 3, tickPad: 3, brackets: N_BRACKETS, pad: p }),
  },
];

/* ======================= TEXT ======================= */
type Lbl = { t: any; x: number; y: number; size: number; align?: "left" | "right" | "center"; color?: string; italic?: boolean };
const CA = (
  <>
    Ca<sup style={{ fontSize: 10, lineHeight: 0, verticalAlign: "super" }}>2+</sup>
  </>
);
const TRACE_COL = { b1: "#4da3d8", b2: "#d0248a", navy: "#34349a", red: "#d63a2a", orange: "#eaa834", green: "#4b8052", purple: "#7a3d98" };

const TEXTS: Lbl[] = [
  { t: "A", x: 2, y: 11.5, size: 18 },
  { t: "B", x: 150, y: 9, size: 18 },
  { t: "C", x: 413, y: 9, size: 18 },
  { t: "D", x: 0, y: 186.5, size: 18 },
  { t: "E", x: 394, y: 184, size: 18 },
  { t: "F", x: 549, y: 185, size: 18 },
  { t: "G", x: 0, y: 354.5, size: 18 },
  { t: "H", x: 394, y: 354, size: 18 },
  { t: "I", x: 556, y: 354.5, size: 18 },
  { t: "J", x: 0, y: 542, size: 18 },
  { t: "K", x: 156, y: 542, size: 18 },
  { t: "L", x: 275, y: 542, size: 18 },
  { t: "M", x: 395, y: 542, size: 18 },
  { t: "N", x: 570, y: 541, size: 18 },
  // B
  { t: CA, x: 176, y: 32.5, size: 16 },
  { t: CA, x: 296, y: 32.5, size: 16 },
  { t: "npr-1", x: 284, y: 33.5, size: 10.5, align: "right", italic: true, color: TRACE_COL.b1 },
  { t: "egl-4; npr-1", x: 407, y: 33.5, size: 10.5, align: "right", italic: true, color: TRACE_COL.b2 },
  // C extra
  { t: "n=15", x: 507, y: 165, size: 9, align: "center" },
  { t: "n=20", x: 553, y: 165, size: 9, align: "center" },
  // D
  { t: "N2", x: 147, y: 197, size: 11, align: "right", color: TRACE_COL.navy },
  { t: "N2", x: 266, y: 197, size: 11, align: "right", color: TRACE_COL.navy },
  { t: "egl-4", x: 384, y: 197, size: 11, align: "right", italic: true, color: TRACE_COL.red },
  // E extra
  { t: "n=12", x: 456, y: 337, size: 9, align: "center" },
  { t: "n=8", x: 491.5, y: 337, size: 9, align: "center" },
  // G
  { t: "egl-4", x: 146, y: 374, size: 10.5, align: "right", italic: true, color: TRACE_COL.red },
  { t: "n=15", x: 146, y: 385.5, size: 10.5, align: "right", color: TRACE_COL.red },
  { t: "egl-4", x: 263, y: 374, size: 10.5, align: "right", italic: true, color: TRACE_COL.orange },
  { t: "Ex[Pgcy-36::egl-4]", x: 263, y: 385.5, size: 10.5, align: "right", italic: true, color: TRACE_COL.orange },
  { t: "n=15", x: 263, y: 397, size: 10.5, align: "right", color: TRACE_COL.orange },
  { t: "egl-4", x: 380, y: 374, size: 10.5, align: "right", italic: true, color: TRACE_COL.orange },
  { t: "Ex[Pgcy-36::egl-4]", x: 380, y: 385.5, size: 10.5, align: "right", italic: true, color: TRACE_COL.orange },
  // H / I extra
  { t: "Ex[Pgcy36::egl-4]", x: 516, y: 513, size: 9.5, align: "center", italic: true },
  { t: "Ex[Pgcy36::egl-4]", x: 683, y: 513, size: 9.5, align: "center", italic: true },
  // J K L
  { t: "egl-4; cng-1", x: 148, y: 561, size: 10.5, align: "right", italic: true, color: TRACE_COL.green },
  { t: "n=13", x: 148, y: 572, size: 10.5, align: "right", color: TRACE_COL.green },
  { t: "pde-1; egl-4", x: 266, y: 561, size: 10.5, align: "right", italic: true, color: TRACE_COL.orange },
  { t: "n=12", x: 266, y: 572, size: 10.5, align: "right", color: TRACE_COL.orange },
  { t: "pde-2; egl-4", x: 383, y: 561, size: 10.5, align: "right", italic: true, color: TRACE_COL.purple },
  { t: "n=12", x: 383, y: 572, size: 10.5, align: "right", color: TRACE_COL.purple },
];

function Txt({ l }: { l: Lbl }) {
  const lh = Math.round(l.size * 1.15);
  const style: any = {
    position: "absolute", top: l.y - lh / 2, lineHeight: lh + "px", fontSize: l.size, fontFamily: FONT,
    color: l.color || "#151515", fontStyle: l.italic ? "italic" : "normal", whiteSpace: "nowrap",
  };
  if (l.align === "right") style.right = 762 - l.x;
  else if (l.align === "center") { style.left = l.x - 150; style.width = 300; style.textAlign = "center"; }
  else style.left = l.x;
  return <div style={style}>{l.t}</div>;
}

function ChartBox({ def }: { def: ChartDef }) {
  const ref = useRef<HTMLCanvasElement | null>(null);
  useEffect(() => {
    const chart = new Chart(ref.current as HTMLCanvasElement, def.make(def.pad) as any);
    return () => chart.destroy();
  }, []);
  const { area: a, pad: p } = def;
  const left = a.L - p.l, top = a.T - p.t;
  const w = a.R - a.L + p.l + p.r, h = a.B - a.T + p.t + p.b;
  return (
    <div style={{ position: "absolute", left, top, width: w, height: h }}>
      <canvas ref={ref} />
    </div>
  );
}

function Legend() {
  const box = (top: number, bg: string, bd: string) => (
    <div style={{ position: "absolute", left: 100, top, width: 11, height: 12, background: bg, border: `1px solid ${bd}` }} />
  );
  const txt = (y: number, s: string) => (
    <div style={{ position: "absolute", left: 115, top: y - 7, lineHeight: "14px", fontSize: 11, fontFamily: FONT, color: "#222", whiteSpace: "nowrap" }}>
      {s}%O<sub style={{ fontSize: 7.5, lineHeight: 0, verticalAlign: "sub" }}>2</sub>
    </div>
  );
  return (
    <>
      {box(15, "#8c8c8c", "#333")}
      {box(32, "#d6d6d6", "#555")}
      {txt(22, "21")}
      {txt(39, "11")}
    </>
  );
}

export default function App() {
  return (
    <div style={{ position: "absolute", left: 0, top: 0, width: 762, height: 709, overflow: "hidden", background: "#fff" }}>
      {CHARTS.map((d, i) => (
        <ChartBox key={i} def={d} />
      ))}
      <Legend />
      {TEXTS.map((l, i) => (
        <Txt key={i} l={l} />
      ))}
    </div>
  );
}
